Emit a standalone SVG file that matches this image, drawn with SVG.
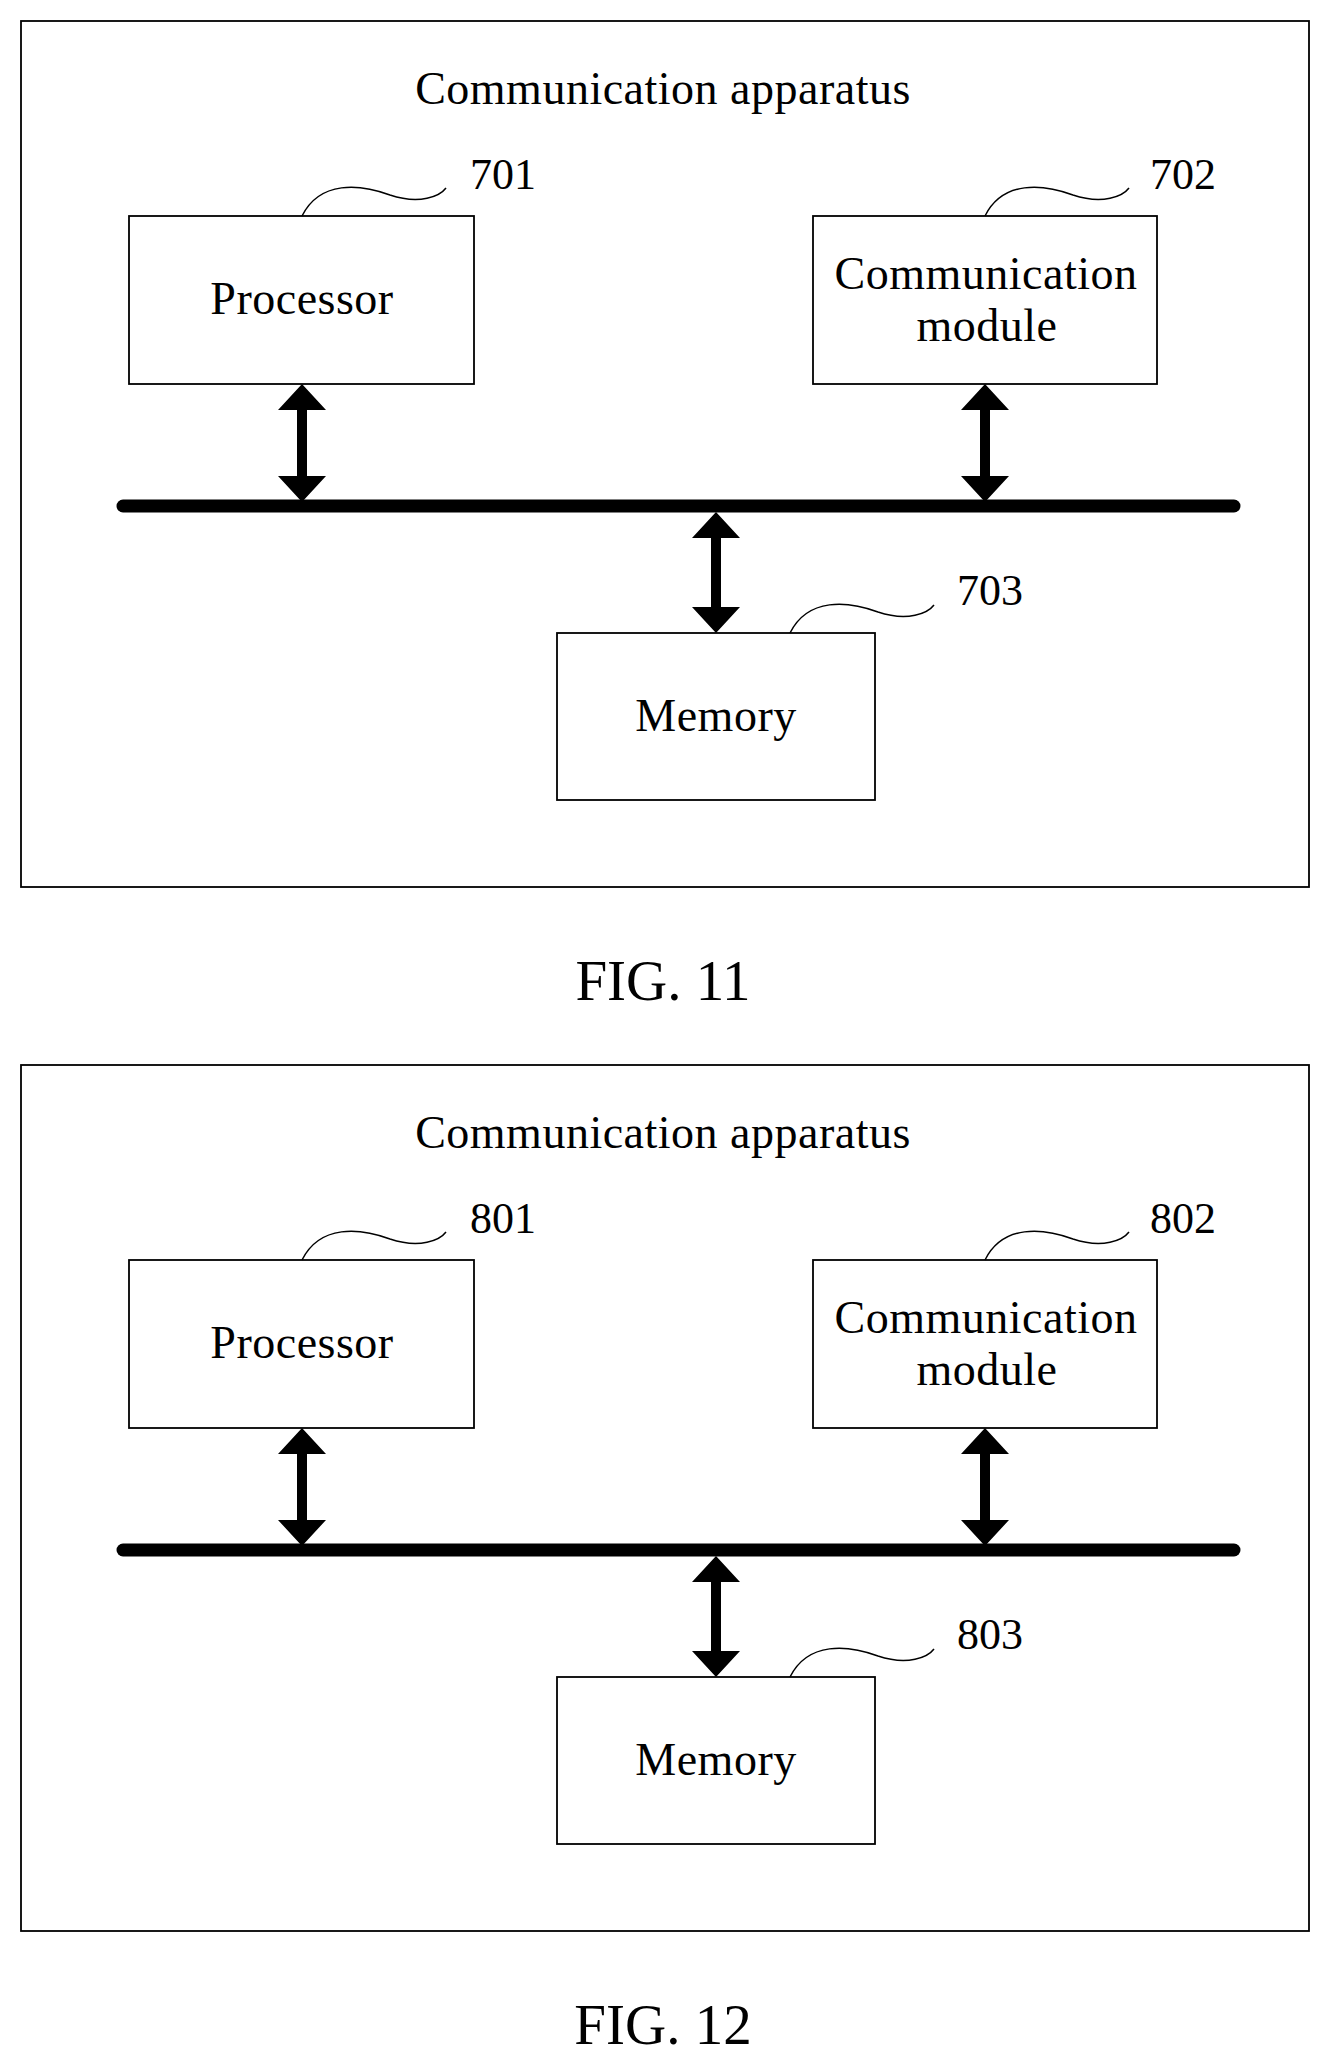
<svg xmlns="http://www.w3.org/2000/svg" width="1335" height="2072" viewBox="0 0 1335 2072">
<style>
.box{fill:#fff;stroke:#000;stroke-width:1.8}
.t{font-family:"Liberation Serif",serif;font-size:46px;fill:#000;text-anchor:middle;letter-spacing:0.5px}
.n{font-family:"Liberation Serif",serif;font-size:44px;fill:#000}
.f{font-family:"Liberation Serif",serif;font-size:57px;fill:#000;text-anchor:middle}
.sq{fill:none;stroke:#000;stroke-width:1.5}
.ar{fill:#000}
</style>
<rect width="1335" height="2072" fill="#fff"/>
<g id="fig11">
<rect id="apparatus11" class="box" x="21" y="21" width="1288" height="866"/>
<text class="t" x="663" y="104">Communication apparatus</text>
<g id="processor701"><rect class="box" x="129" y="216" width="345" height="168"/><text class="t" x="302" y="314">Processor</text>
<path class="sq" d="M302,216 C320,180 360,184 390,195 C420,205 440,196 446,188"/><text class="n" x="470" y="189">701</text></g>
<g id="comm702"><rect class="box" x="813" y="216" width="344" height="168"/><text class="t" x="986" y="289">Communication</text><text class="t" x="987" y="341">module</text>
<path class="sq" d="M985,216 C1003,180 1043,184 1073,195 C1103,205 1123,196 1129,188"/><text class="n" x="1150" y="189">702</text></g>
<g id="memory703"><rect class="box" x="557" y="633" width="318" height="167"/><text class="t" x="716" y="731">Memory</text>
<path class="sq" d="M790,633 C808,597 848,601 878,612 C908,622 928,613 934,605"/><text class="n" x="957" y="605">703</text></g>
<g id="connectors11">
<line x1="123" y1="506" x2="1234" y2="506" stroke="#000" stroke-width="13" stroke-linecap="round"/>
<polygon class="ar" points="302,384 326,410 307,410 307,476 326,476 302,502 278,476 297,476 297,410 278,410"/>
<polygon class="ar" points="985,384 1009,410 990,410 990,476 1009,476 985,502 961,476 980,476 980,410 961,410"/>
<polygon class="ar" points="716,512 740,538 721,538 721,607 740,607 716,633 692,607 711,607 711,538 692,538"/>
</g>
<text class="f" x="663" y="1000">FIG. 11</text>
</g>
<g id="fig12" transform="translate(0,1044)">
<rect id="apparatus12" class="box" x="21" y="21" width="1288" height="866"/>
<text class="t" x="663" y="104">Communication apparatus</text>
<g id="processor801"><rect class="box" x="129" y="216" width="345" height="168"/><text class="t" x="302" y="314">Processor</text>
<path class="sq" d="M302,216 C320,180 360,184 390,195 C420,205 440,196 446,188"/><text class="n" x="470" y="189">801</text></g>
<g id="comm802"><rect class="box" x="813" y="216" width="344" height="168"/><text class="t" x="986" y="289">Communication</text><text class="t" x="987" y="341">module</text>
<path class="sq" d="M985,216 C1003,180 1043,184 1073,195 C1103,205 1123,196 1129,188"/><text class="n" x="1150" y="189">802</text></g>
<g id="memory803"><rect class="box" x="557" y="633" width="318" height="167"/><text class="t" x="716" y="731">Memory</text>
<path class="sq" d="M790,633 C808,597 848,601 878,612 C908,622 928,613 934,605"/><text class="n" x="957" y="605">803</text></g>
<g id="connectors12">
<line x1="123" y1="506" x2="1234" y2="506" stroke="#000" stroke-width="13" stroke-linecap="round"/>
<polygon class="ar" points="302,384 326,410 307,410 307,476 326,476 302,502 278,476 297,476 297,410 278,410"/>
<polygon class="ar" points="985,384 1009,410 990,410 990,476 1009,476 985,502 961,476 980,476 980,410 961,410"/>
<polygon class="ar" points="716,512 740,538 721,538 721,607 740,607 716,633 692,607 711,607 711,538 692,538"/>
</g>
<text class="f" x="663" y="1000">FIG. 12</text>
</g>
</svg>
